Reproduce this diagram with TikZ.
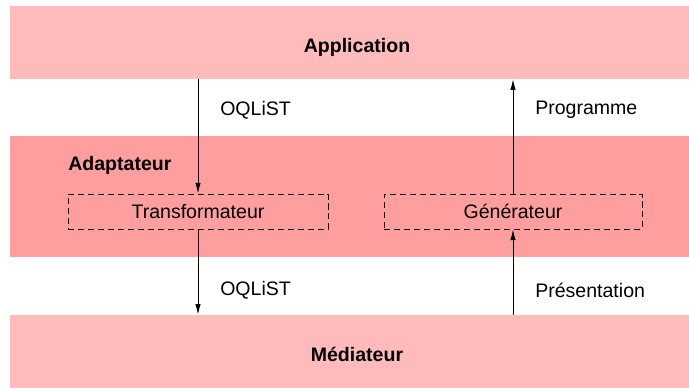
\documentclass[tikz,border=0pt]{standalone}
\usepackage{fontspec}
\setmainfont{Liberation Sans}
\usetikzlibrary{arrows.meta,positioning}
\definecolor{layerpink}{RGB}{255,187,187}
\definecolor{adapterpink}{RGB}{255,158,158}

\begin{document}
\begin{tikzpicture}[
    font=\fontsize{13.9}{16.7}\selectfont,
    layer/.style={fill=layerpink, minimum width=17.35cm, minimum height=1.825cm, inner sep=0pt, text height=0.62cm, text depth=0.1cm, font=\fontsize{13.9}{16.7}\selectfont\bfseries},
    adapter/.style={fill=adapterpink, minimum width=17.35cm, minimum height=3.025cm, inner sep=0pt},
    unit/.style={draw, dash pattern=on 4.3pt off 2.8pt, line width=0.7pt, minimum height=0.875cm, inner sep=0pt},
    tag/.style={anchor=west, inner sep=0pt},
    flow/.style={-{Latex[length=7.5pt,width=3.8pt]}, line width=0.7pt}
]
\useasboundingbox (0,0) rectangle (17.225,9.7);
\node[layer] (application) at (8.925,8.6375) {Application};
\node[adapter] (adaptateur) at (8.925,4.7875) {};
\node[layer] (mediateur) at (8.925,0.9125) {Médiateur};
\node[tag, font=\fontsize{13.9}{16.7}\selectfont\bfseries] (adaptlabel) at (1.7,5.56) {Adaptateur};
\node[unit, minimum width=6.5cm] (transfo) at (4.95,4.4125) {Transformateur};
\node[unit, minimum width=6.45cm] (generateur) at (12.825,4.4125) {Générateur};

\draw[flow] (transfo.north |- application.south) -- (transfo.north);
\draw[flow] (transfo.south) -- (transfo.south |- mediateur.north);
\draw[flow] (generateur.north) -- (generateur.north |- application.south);
\draw[flow] (generateur.south |- mediateur.north) -- (generateur.south);

\node[tag] (requete) at (5.5,6.95) {OQLiST};
\node[tag] (programme) at (13.375,6.95) {Programme};
\node[tag] (requetemed) at (5.5,2.45) {OQLiST};
\node[tag] (presentation) at (13.375,2.45) {Présentation};
\end{tikzpicture}
\end{document}
